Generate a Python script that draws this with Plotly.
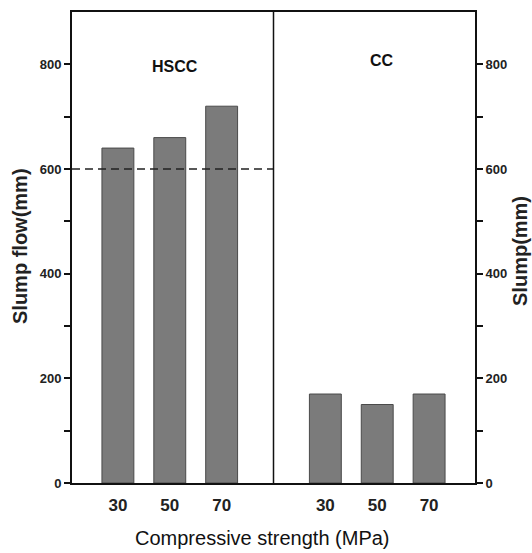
import plotly.graph_objects as go

strength_labels = ["30", "50", "70"]
hscc_slump_flow = [640, 660, 720]
cc_slump = [170, 150, 170]

hscc_pos = [1, 2, 3]
cc_pos = [5, 6, 7]

bar_style = dict(marker=dict(color="#7b7b7b", line=dict(color="#4a4a4a", width=1)), width=0.615, showlegend=False)

fig = go.Figure()
fig.add_trace(go.Bar(x=hscc_pos, y=hscc_slump_flow, **bar_style))
fig.add_trace(go.Bar(x=cc_pos, y=cc_slump, yaxis="y2", **bar_style))

# reference line at 600 across HSCC panel
fig.add_trace(go.Scatter(x=[0.115, 4], y=[600, 600], mode="lines",
                         line=dict(color="#222", width=1.5, dash="8px,5px"), showlegend=False))

tickfont_y = dict(family="Liberation Sans, Arial", size=13, color="#222", weight="bold")
fig.update_layout(
    width=532, height=553,
    margin=dict(l=72, r=57, t=10, b=70),
    plot_bgcolor="white", paper_bgcolor="white",
    barmode="overlay",
    xaxis=dict(range=[0.115, 7.885], tickmode="array", tickvals=hscc_pos + cc_pos,
               ticktext=strength_labels + strength_labels, ticks="", showgrid=False, zeroline=False,
               showline=True, linecolor="#111", linewidth=2, mirror=True,
               tickfont=dict(family="Liberation Sans, Arial", size=17, color="#222", weight="bold"),
               ticklabelstandoff=6),
    yaxis=dict(range=[0, 900], tickvals=[0, 200, 400, 600, 800], ticks="outside", ticklen=6,
               tickwidth=2, tickcolor="#111", showgrid=False, zeroline=False,
               showline=True, linecolor="#111", linewidth=2,
               tickfont=tickfont_y,
               minor=dict(tickvals=[100, 300, 500, 700], ticks="outside", ticklen=6, tickwidth=2, tickcolor="#111")),
    yaxis2=dict(range=[0, 900], overlaying="y", side="right", tickvals=[0, 200, 400, 600, 800],
                ticks="outside", ticklen=6, tickwidth=2, tickcolor="#111", showgrid=False, zeroline=False,
                showline=True, linecolor="#111", linewidth=2, tickfont=tickfont_y,
                minor=dict(tickvals=[100, 300, 500, 700], ticks="outside", ticklen=6, tickwidth=2, tickcolor="#111")),
    shapes=[dict(type="line", xref="x", yref="paper", x0=4, x1=4, y0=0, y1=1,
                 line=dict(color="#111", width=1.5))],
    annotations=[
        dict(text="<b>HSCC</b>", x=2.1, y=795, xref="x", yref="y", showarrow=False,
             font=dict(family="Liberation Sans, Arial", size=16, color="#111")),
        dict(text="<b>CC</b>", x=6.1, y=808, xref="x", yref="y", showarrow=False,
             font=dict(family="Liberation Sans, Arial", size=16, color="#111")),
        dict(text="<b>Slump flow(mm)</b>", x=20, y=245, showarrow=False,
             textangle=-90, font=dict(family="Liberation Sans, Arial", size=20, color="#222")),
        dict(text="<b>Slump(mm)</b>", x=520, y=250, showarrow=False, textangle=-90,
             font=dict(family="Liberation Sans, Arial", size=20, color="#222")),
        dict(text="Compressive strength (MPa)", x=262, y=538, showarrow=False,
             font=dict(family="Liberation Sans, Arial", size=20, color="#111")),
    ],
)

# convert pixel-positioned annotations (title labels) to paper coords
W, H = 532, 553
l, r, t, b = 72, 57, 10, 70
pw, ph = W - l - r, H - t - b
anns = list(fig.layout.annotations)
for a in anns[2:]:
    a.xref = "paper"; a.yref = "paper"
    a.x = (a.x - l) / pw
    a.y = (H - b - a.y) / ph
    a.xanchor = "center"; a.yanchor = "middle"
fig.layout.annotations = anns

fig.write_html("out.html")
